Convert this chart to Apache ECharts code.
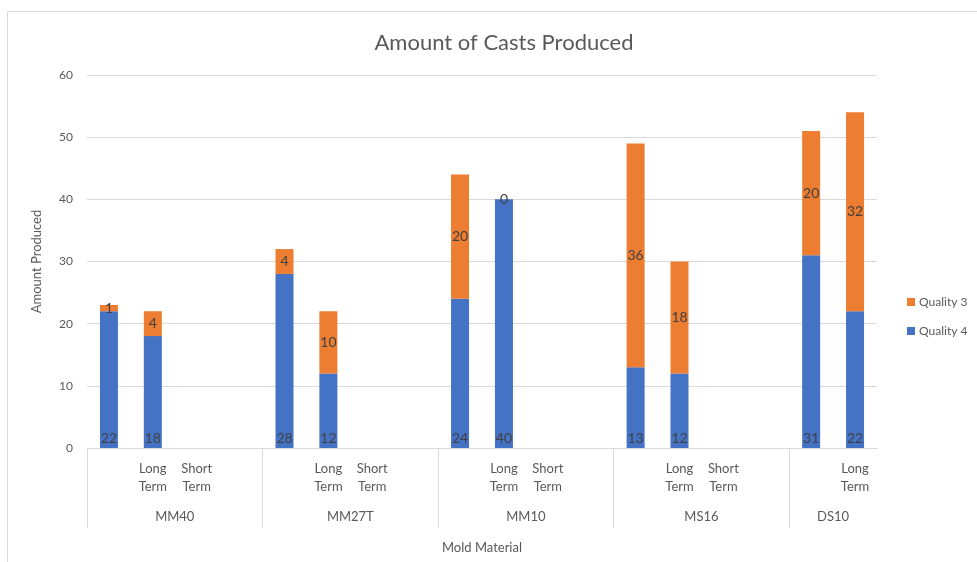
<!DOCTYPE html>
<html>
<head>
<meta charset="utf-8">
<script src="https://cdn.jsdelivr.net/npm/echarts@6/dist/echarts.min.js"></script>
<style>
  html, body { margin: 0; padding: 0; background: #fff; }
  #main { width: 977px; height: 562px; }
</style>
</head>
<body>
<div id="main"></div>
<script>
// groups on the outer axis level and how many slots each takes
const groups = ['MM40', 'MM27T', 'MM10', 'MS16', 'DS10'];
const groupSizes = [4, 4, 4, 4, 2];

// inner axis level (one per slot)
const subLabels = [
  '', 'Long Term', 'Short Term', '',
  '', 'Long Term', 'Short Term', '',
  '', 'Long Term', 'Short Term', '',
  '', 'Long Term', 'Short Term', '',
  '', 'Long Term'
];

const quality4 = [22, 18, null, null, 28, 12, null, null, 24, 40, null, null, 13, 12, null, null, 31, 22];
const quality3 = [1, 4, null, null, 4, 10, null, null, 20, 0, null, null, 36, 18, null, null, 20, 32];

const yTicks = [0, 10, 20, 30, 40, 50, 60];

// outer level axis: boundary positions 0..N, group names at the middle of each group
const total = groupSizes.reduce((a, b) => a + b, 0);
const groupAxisData = new Array(total + 1).fill('');
const boundaries = [];
const centers = [];
let pos = 0;
groups.forEach((g, i) => {
  boundaries.push(pos);
  const mid = pos + groupSizes[i] / 2;
  groupAxisData[mid] = g;
  centers.push(mid);
  pos += groupSizes[i];
});

const textColor = '#595959';
const gridColor = '#d9d9d9';
const font = 'Lato, "Liberation Sans", sans-serif';

const chart = echarts.init(document.getElementById('main'));
chart.setOption({
  animation: false,
  textStyle: { fontFamily: font },
  title: {
    text: 'Amount of Casts Produced',
    left: 499, top: 27, textAlign: 'center',
    textStyle: { fontSize: 22, fontWeight: 'normal', color: textColor, fontFamily: font }
  },
  graphic: [{
    type: 'rect',
    shape: { x: 7.5, y: 11.5, width: 980, height: 560 },
    style: { fill: 'none', stroke: gridColor, lineWidth: 1 },
    silent: true
  }],
  legend: {
    orient: 'vertical',
    left: 902, top: 291,
    itemWidth: 8, itemHeight: 8, itemGap: 17,
    icon: 'rect',
    data: ['Quality 3', 'Quality 4'],
    textStyle: { fontSize: 12, color: textColor, padding: [0, 0, 0, -1] }
  },
  grid: { left: 87, right: 100, top: 75, bottom: 114 },
  xAxis: [{
    type: 'category',
    data: subLabels,
    axisLine: { show: true, lineStyle: { color: gridColor } },
    axisTick: { show: false },
    axisLabel: {
      interval: 0, margin: 12, color: textColor, fontSize: 13, lineHeight: 18,
      formatter: v => v.replace(' ', '\n')
    }
  }, {
    type: 'category',
    data: groupAxisData,
    boundaryGap: false,
    position: 'bottom',
    axisLine: { show: false },
    axisTick: {
      show: true, length: 80,
      interval: idx => boundaries.includes(idx),
      lineStyle: { color: gridColor }
    },
    axisLabel: {
      interval: idx => centers.includes(idx),
      margin: 62, color: textColor, fontSize: 13
    },
    name: 'Mold Material',
    nameLocation: 'middle',
    nameGap: 93,
    nameTextStyle: { color: textColor, fontSize: 13 }
  }],
  yAxis: {
    type: 'value',
    min: yTicks[0], max: yTicks[yTicks.length - 1], interval: 10,
    axisLine: { show: false },
    axisTick: { show: false },
    splitLine: { lineStyle: { color: gridColor } },
    axisLabel: { color: textColor, fontSize: 12, margin: 14 },
    name: 'Amount Produced',
    nameLocation: 'middle',
    nameRotate: 90,
    nameGap: 44,
    nameTextStyle: { color: textColor, fontSize: 13 }
  },
  series: [{
    name: 'Quality 4',
    type: 'bar',
    stack: 'total',
    barWidth: 18,
    data: quality4,
    itemStyle: { color: '#4472C4' },
    label: { show: true, position: 'insideBottom', distance: 3, color: '#404040', fontSize: 14 }
  }, {
    name: 'Quality 3',
    type: 'bar',
    stack: 'total',
    barWidth: 18,
    data: quality3,
    itemStyle: { color: '#ED7D31' },
    label: { show: true, position: 'inside', color: '#404040', fontSize: 14 }
  }]
});
</script>
</body>
</html>
